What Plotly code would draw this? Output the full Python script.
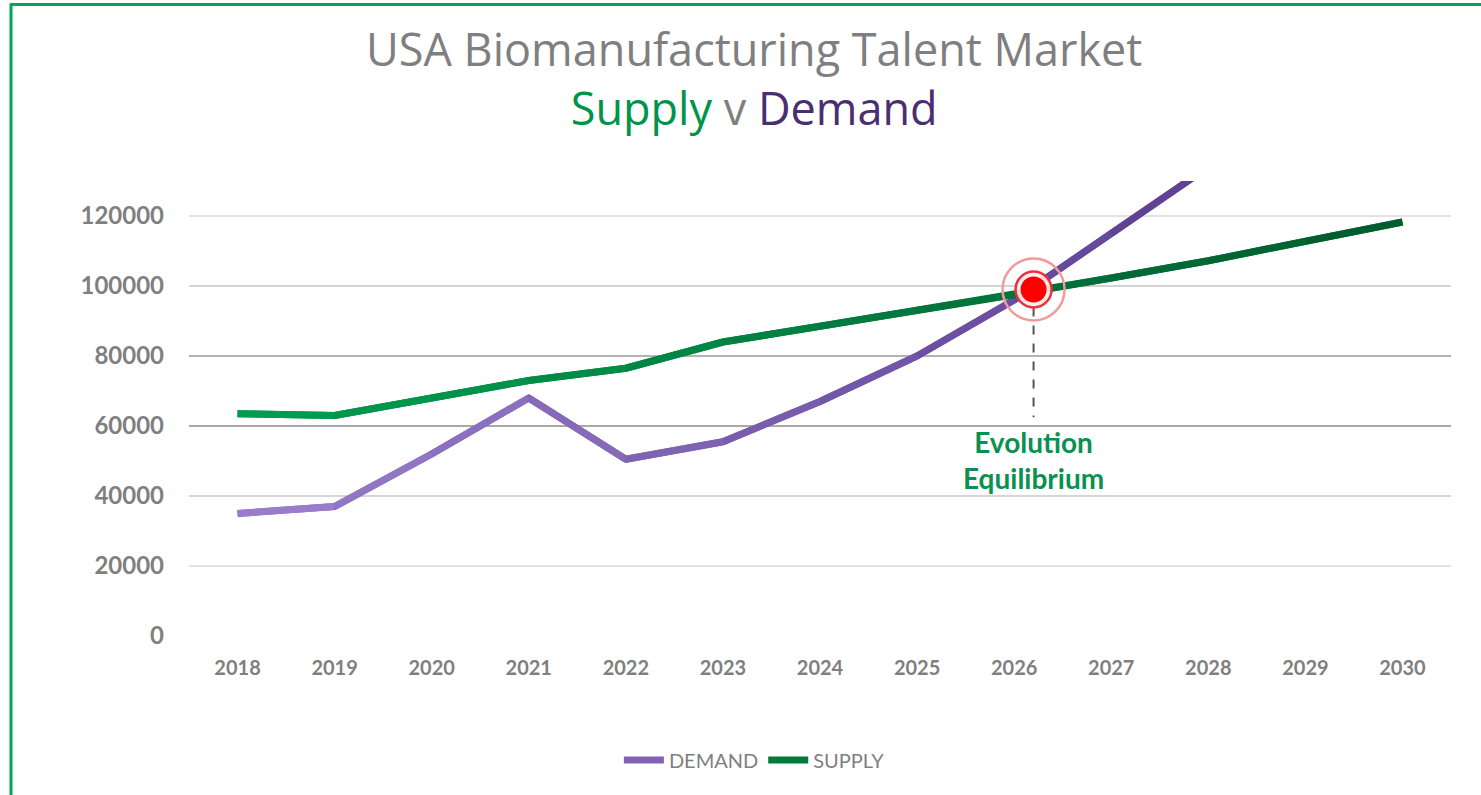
import plotly.graph_objects as go

years = [2018, 2019, 2020, 2021, 2022, 2023, 2024, 2025, 2026, 2027, 2028, 2029, 2030]
demand = [35000, 37000, 52000, 68000, 50500, 55500, 67000, 80000, 96000, 115000, 134000, 156000, 180000]
supply = [63500, 63000, 68000, 73000, 76500, 84000, 88500, 93000, 97500, 102300, 107200, 112800, 118300]
y_ticks = [0, 20000, 40000, 60000, 80000, 100000, 120000]
eq_x = 2026.2
eq_y = 99000
eq_label_bottom = 62500

W, H = 1481, 795
ML, MR, MT, MB = 189, 30, 181, 159
PW, PH = W - ML - MR, H - MT - MB

def px_x(p):
    return (p - ML) / PW

def px_y(p):
    return (H - MB - p) / PH

def mix(c1, c2, t):
    a = [int(c1[i:i + 2], 16) for i in (1, 3, 5)]
    b = [int(c2[i:i + 2], 16) for i in (1, 3, 5)]
    return "#" + "".join(f"{round(a[k] + (b[k] - a[k]) * t):02x}" for k in range(3))

fig = go.Figure()

# base lines (legend entries)
fig.add_trace(go.Scatter(x=years, y=demand, mode="lines", name="DEMAND",
                         line=dict(color="#8262b6", width=7)))
fig.add_trace(go.Scatter(x=years, y=supply, mode="lines", name="SUPPLY",
                         line=dict(color="#007a3c", width=7)))

# gradient overlay segments
n = len(years)
for i in range(n - 1):
    t = (i + 0.5) / (n - 1)
    fig.add_trace(go.Scatter(x=years[i:i + 2], y=demand[i:i + 2], mode="lines", showlegend=False,
                             hoverinfo="skip",
                             line=dict(color=mix("#9c80cf", "#4f3285", t), width=7)))
for i in range(n - 1):
    t = (i + 0.5) / (n - 1)
    fig.add_trace(go.Scatter(x=years[i:i + 2], y=supply[i:i + 2], mode="lines", showlegend=False,
                             hoverinfo="skip",
                             line=dict(color=mix("#00a052", "#005a2d", t), width=7)))

# dashed drop line
fig.add_trace(go.Scatter(x=[eq_x, eq_x], y=[eq_y, eq_label_bottom], mode="lines",
                         line=dict(color="#555555", width=2, dash="dash"),
                         showlegend=False, hoverinfo="skip"))
# equilibrium marker
fig.add_trace(go.Scatter(x=[eq_x], y=[eq_y], mode="markers", showlegend=False, hoverinfo="skip",
                         marker=dict(symbol="circle", size=62, color="rgba(255,255,255,0)",
                                     line=dict(color="#f29a9a", width=2.5))))
fig.add_trace(go.Scatter(x=[eq_x], y=[eq_y], mode="markers", showlegend=False, hoverinfo="skip",
                         marker=dict(symbol="circle", size=36, color="rgba(255,235,235,0.9)",
                                     line=dict(color="#e8333a", width=2.5))))
fig.add_trace(go.Scatter(x=[eq_x], y=[eq_y], mode="markers", showlegend=False, hoverinfo="skip",
                         marker=dict(symbol="circle", size=26, color="#ff0000",
                                     line=dict(color="#ff0000", width=0))))

grid_colors = {20000: "#d9d9d9", 40000: "#c8c8c8", 60000: "#8c8c8c", 80000: "#9a9a9a",
               100000: "#c4c4c4", 120000: "#d9d9d9"}
shapes = []
for v, c in grid_colors.items():
    shapes.append(dict(type="line", xref="paper", yref="y", x0=0, x1=1, y0=v, y1=v,
                       line=dict(color=c, width=1.5), layer="below"))
# green frame
shapes.append(dict(type="line", xref="paper", yref="paper", x0=px_x(11), x1=px_x(11),
                   y0=px_y(4), y1=px_y(800), line=dict(color="#00a651", width=3)))
shapes.append(dict(type="line", xref="paper", yref="paper", x0=px_x(10), x1=px_x(1490),
                   y0=px_y(4.5), y1=px_y(4.5), line=dict(color="#00a651", width=3)))

annotations = [
    dict(x=px_x(754), y=px_y(78), xref="paper", yref="paper", showarrow=False,
         text="USA Biomanufacturing Talent Market<br>"
              "<span style='color:#00934a'>Supply</span> v "
              "<span style='color:#4b2e72'>Demand</span>",
         xanchor="center", yanchor="middle", align="center",
         font=dict(family="Open Sans", size=45, color="#7f7f7f", weight=500)),
    dict(x=eq_x, y=px_y(460), xref="x", yref="paper",
         text="<b>Evolution<br>Equilibrium</b>", showarrow=False,
         font=dict(family="Lato", size=28, color="#0a9150"),
         align="center", yanchor="middle"),
]

fig.update_layout(
    width=W, height=H,
    margin=dict(l=ML, r=MR, t=MT, b=MB),
    paper_bgcolor="white", plot_bgcolor="white",
    font=dict(family="Lato", color="#7f7f7f"),
    xaxis=dict(range=[2017.5, 2030.5], tickvals=years, ticktext=[str(y) for y in years],
               showgrid=False, zeroline=False, showline=False, ticks="",
               tickfont=dict(family="Lato", size=20, color="#7f7f7f", weight="bold"),
               ticklabelstandoff=18),
    yaxis=dict(range=[0, 130000], tickvals=y_ticks, ticktext=[str(v) for v in y_ticks],
               showgrid=False, zeroline=False, showline=False, ticks="",
               tickfont=dict(family="Lato", size=24, color="#7f7f7f", weight="bold"),
               ticklabelstandoff=24),
    legend=dict(orientation="h", x=0.448, xanchor="center", y=px_y(760), yanchor="middle",
                font=dict(family="Lato", size=20, color="#7f7f7f"), itemwidth=40,
                tracegroupgap=0),
    shapes=shapes,
    annotations=annotations,
)

fig.write_html("out.html", config={"displayModeBar": False},
               post_script="document.body.style.margin='0';document.body.style.padding='0';")
